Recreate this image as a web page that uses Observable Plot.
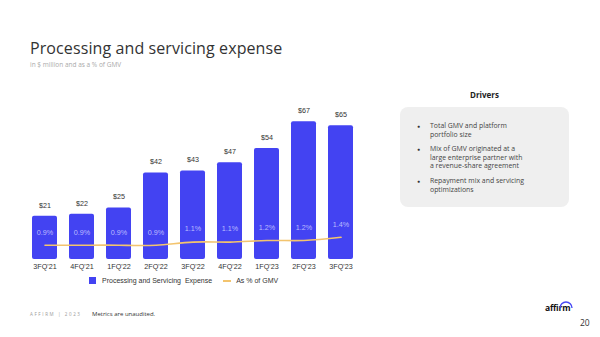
<!DOCTYPE html>
<html>
<head>
<meta charset="utf-8">
<script src="https://cdn.jsdelivr.net/npm/d3@7"></script>
<script src="https://cdn.jsdelivr.net/npm/@observablehq/plot@0.6"></script>
<style>
  html, body { margin: 0; padding: 0; background: #fff; }
  #page { position: relative; width: 600px; height: 337px; overflow: hidden; background: #fff; font-family: "Open Sans", sans-serif; }
  .abs { position: absolute; white-space: nowrap; }
  #title { left: 30px; top: 37px; font-size: 16px; font-weight: 400; color: #333; letter-spacing: 0.1px; }
  #subtitle { left: 30px; top: 60px; font-size: 6.5px; color: #aaa; }
  #drivers-h { left: 400px; width: 169px; top: 89px; text-align: center; font-size: 8px; font-weight: 700; color: #222; }
  #box { left: 400px; top: 107px; width: 169px; height: 100px; background: #efefef; border-radius: 8px; }
  #box ul { margin: 0; padding: 0; list-style: none; position: absolute; left: 0; top: 15px; }
  #box li { position: relative; padding-left: 30px; font-size: 6.9px; line-height: 8.6px; color: #444; margin-bottom: 6px; }
  #box li::before { content: "●"; position: absolute; left: 17px; top: 0; font-size: 5px; color: #333; }
  #chart { left: 0; top: 90px; }
  #legend { left: 89px; top: 277px; font-family: "Liberation Sans", Arial, sans-serif; font-size: 7px; color: #333; display: flex; align-items: center; }
  .sw { display: inline-block; width: 7px; height: 7px; background: #4343f2; margin-right: 6px; }
  .ln { display: inline-block; width: 8px; height: 2px; background: #f3c46e; margin: 0 5px 0 11px; }
  #foot1 { left: 30px; top: 311px; font-size: 4.5px; letter-spacing: 1.6px; color: #999; }
  #foot2 { left: 92px; top: 310px; font-size: 6px; color: #333; }
  #logo { left: 545px; top: 302px; font-size: 8.5px; font-weight: 700; color: #111; letter-spacing: -0.2px; }
  #pg { left: 580px; top: 317px; font-size: 8.5px; color: #333; }
</style>
</head>
<body>
<div id="page">
  <div id="title" class="abs">Processing and servicing expense</div>
  <div id="subtitle" class="abs">in $ million and as a % of GMV</div>
  <div id="drivers-h" class="abs">Drivers</div>
  <div id="box" class="abs">
    <ul>
      <li>Total GMV and platform<br>portfolio size</li>
      <li>Mix of GMV originated at a<br>large enterprise partner with<br>a revenue-share agreement</li>
      <li>Repayment mix and servicing<br>optimizations</li>
    </ul>
  </div>
  <div id="chart" class="abs"></div>
  <div id="legend" class="abs"><span class="sw"></span>Processing and Servicing&nbsp; Expense<span class="ln"></span>As % of GMV</div>
  <div id="foot1" class="abs">AFFIRM | 2023</div>
  <div id="foot2" class="abs">Metrics are unaudited.</div>
  <div id="logo" class="abs">affirm<svg width="14" height="8" style="position:absolute;left:14px;top:-1px" viewBox="0 0 14 8"><path d="M1 7 A6 6 0 0 1 13 7" fill="none" stroke="#4a4af4" stroke-width="1.4"/></svg></div>
  <div id="pg" class="abs">20</div>
</div>
<script>
const quarters = ["3FQ'21","4FQ'21","1FQ'22","2FQ'22","3FQ'22","4FQ'22","1FQ'23","2FQ'23","3FQ'23"];
const expense = [21, 22, 25, 42, 43, 47, 54, 67, 65];
const pctGMV = [0.9, 0.9, 0.9, 0.9, 1.1, 1.1, 1.2, 1.2, 1.4];

const data = quarters.map((q, i) => ({q, v: expense[i], p: pctGMV[i]}));
const pctToY = 7.7; // secondary axis factor (1% of GMV in $M-scale units)
const font = "Liberation Sans, Arial, sans-serif";

const chart = Plot.plot({
  width: 380,
  height: 185,
  marginTop: 25,
  marginBottom: 16,
  marginLeft: 18,
  marginRight: 13,
  style: {fontFamily: font, fontSize: "7px", color: "#333", background: "transparent"},
  x: {domain: quarters, padding: 0.33, label: null},
  y: {domain: [0, 70], axis: null},
  marks: [
    Plot.barY(data, {x: "q", y: "v", fill: "#4343f2", rx: 2}),
    Plot.text(data, {x: "q", y: "v", text: d => `$${d.v}`, dy: -11, fill: "#333", fontSize: 7.2}),
    Plot.line(data, {x: "q", y: d => d.p * pctToY, stroke: "#f3c46e", strokeWidth: 1.6, curve: "natural"}),
    Plot.text(data, {x: "q", y: d => d.p * pctToY, text: d => `${d.p.toFixed(1)}%`, dy: -13, fill: "#bcbcff", fontSize: 7.2}),
    Plot.axisX({tickSize: 0, tickPadding: 4, fontSize: 7.2, label: null, fill: "#333"})
  ]
});
document.getElementById("chart").appendChild(chart);
</script>
</body>
</html>
